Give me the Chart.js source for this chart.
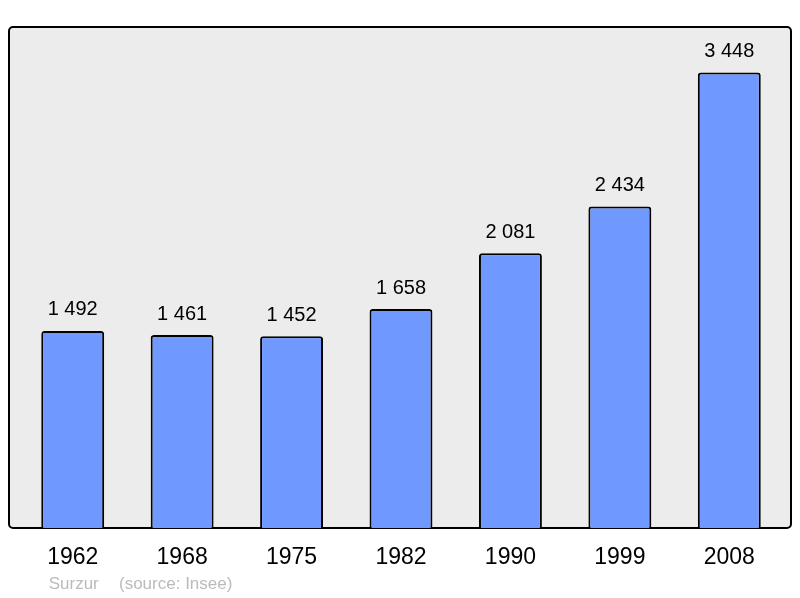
<!DOCTYPE html>
<html><head><meta charset="utf-8">
<script src="https://cdn.jsdelivr.net/npm/chart.js@4"></script>
<style>html,body{margin:0;padding:0;background:#fff}#c{display:block}</style>
</head><body>
<canvas id="c" width="800" height="598"></canvas>
<script>
const years = ["1962","1968","1975","1982","1990","1999","2008"];
const population = [1492,1461,1452,1658,2081,2434,3448];
const townName = "Surzur";
const sourceText = "(source: Insee)";

function fmt(v){return String(v).replace(/\B(?=(\d{3})+(?!\d))/g,' ');}

const bgBox = {
  id:'bgBox',
  beforeDraw(chart){
    const ctx = chart.ctx;
    const a = chart.chartArea;
    const x = 9, y = a.top, w = 782, h = a.bottom - a.top;
    ctx.save();
    ctx.beginPath();
    ctx.roundRect(x, y, w, h, 4);
    ctx.fillStyle = '#ececec';
    ctx.fill();
    ctx.lineWidth = 2;
    ctx.strokeStyle = '#000';
    ctx.stroke();
    ctx.restore();
  },
  afterDatasetsDraw(chart){
    const ctx = chart.ctx;
    const meta = chart.getDatasetMeta(0);
    ctx.save();
    ctx.font = '20px "Liberation Sans", Arial, sans-serif';
    ctx.fillStyle = '#000';
    ctx.textAlign = 'center';
    ctx.textBaseline = 'middle';
    meta.data.forEach((el,i)=>{
      ctx.fillText(fmt(population[i]), el.x, el.y - 21);
    });
    ctx.fillStyle = '#bbbbbb';
    ctx.font = '17px "Liberation Sans", Arial, sans-serif';
    ctx.fillText(townName, meta.data[0].x + 1, 584);
    ctx.textAlign = 'left';
    ctx.fillText(sourceText, 119, 584);
    ctx.restore();
  }
};

new Chart(document.getElementById('c'), {
  type:'bar',
  data:{labels:years, datasets:[{
    data:population,
    backgroundColor:'#7099ff',
    borderColor:'#000',
    borderWidth:2,
    borderSkipped:'bottom',
    borderRadius:{topLeft:3, topRight:3, bottomLeft:0, bottomRight:0},
    barPercentage:0.575,
    categoryPercentage:1
  }]},
  options:{
    responsive:false, animation:false,
    layout:{padding:{left:18, right:16, top:27, bottom:0}},
    plugins:{legend:{display:false}, tooltip:{enabled:false}},
    scales:{
      y:{display:false, min:0, max:3793},
      x:{
        grid:{display:false, drawTicks:false}, border:{display:false},
        ticks:{color:'#000', font:{size:23, family:'"Liberation Sans", Arial, sans-serif'}, padding:16},
        afterFit(s){ s.height = 70; }
      }
    }
  },
  plugins:[bgBox]
});
</script>
</body></html>
